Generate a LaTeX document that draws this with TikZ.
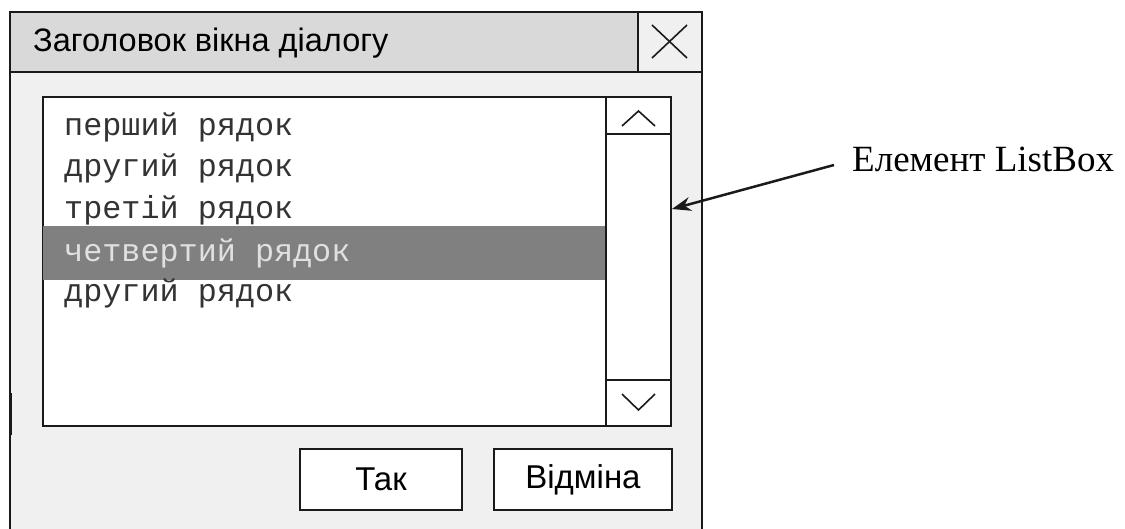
\documentclass[tikz,border=0pt]{standalone}
\usepackage{fontspec}
\setmainfont{Liberation Serif}
\newfontfamily\uifont{Liberation Sans}
\newfontfamily\listfont{Liberation Mono}
\usetikzlibrary{arrows.meta}
\definecolor{titlegray}{HTML}{D9D9D9}
\definecolor{bodygray}{HTML}{F0F0F0}
\definecolor{selgray}{HTML}{808080}
\definecolor{ink}{HTML}{1A1A1A}
\tikzset{
  frame/.style={draw=ink, line width=2pt},
  listline/.style={anchor=base west, inner sep=0pt, font=\listfont\fontsize{31.8}{32}\selectfont, text=black!80},
  uitext/.style={inner sep=0pt, font=\uifont\fontsize{32.5}{34}\selectfont, text=black},
  btn/.style={frame, fill=white, minimum height=61pt, inner sep=0pt, font=\uifont\fontsize{33}{35}\selectfont},
  glyph/.style={draw=ink, line width=1.6pt},
}
\begin{document}
\begin{tikzpicture}[x=1pt, y=-1pt]
  \useasboundingbox (0,0) rectangle (1125,528);
  \begin{scope}
    \clip (0,0) rectangle (1125,528);
    % window body and title bar
    \path[frame, fill=bodygray] (10,12) rectangle (702,560);
    \path[frame, fill=titlegray] (10,12) rectangle (638,72);
    \path[frame, fill=bodygray] (638,12) rectangle (702,72);
    \draw[ink, line width=2.6pt] (10.5,393) -- (10.5,435);
  \end{scope}
  % close cross
  \draw[glyph] (652,25) -- (687,58);
  \draw[glyph] (687,25) -- (652,58);
  \node[uitext, anchor=base west] (title) at (33,51) {Заголовок вікна діалогу};

  % list box with its scroll bar
  \node[frame, fill=white, minimum width=628pt, minimum height=329pt, inner sep=0pt, anchor=north west] (listbox) at (42,96) {};
  \fill[selgray] (43,226) rectangle (606,280);
  \draw[frame] (606,96) -- (606,425);
  \draw[frame] (606,134) -- (670,134);
  \draw[frame] (606,380) -- (670,380);
  \draw[glyph] (622,126) -- (638.5,111) -- (655,126);
  \draw[glyph] (622,394) -- (638.5,410) -- (655,394);

  \node[listline] (row1) at (64,135.5) {перший рядок};
  \node[listline] (row2) at (64,176.5) {другий рядок};
  \node[listline] (row3) at (64,218) {третій рядок};
  \node[listline, text=white!88!black] (row4) at (64,261.5) {четвертий рядок};
  \node[listline] (row5) at (64,301.5) {другий рядок};

  % buttons
  \node[btn, minimum width=162pt, anchor=north west] (ok) at (299,448) {Так};
  \node[btn, minimum width=178pt, anchor=north west] (cancel) at (493,448) {Відміна};

  % callout
  \node[anchor=base west, inner sep=0pt, font=\fontsize{37}{39}\selectfont] (label) at (852,171) {Елемент ListBox};
  \coordinate (target) at (672,209);
  \draw[ink, line width=2.5pt, -{Stealth[length=19pt, width=14pt]}] (834,165) -- (target);
\end{tikzpicture}
\end{document}
